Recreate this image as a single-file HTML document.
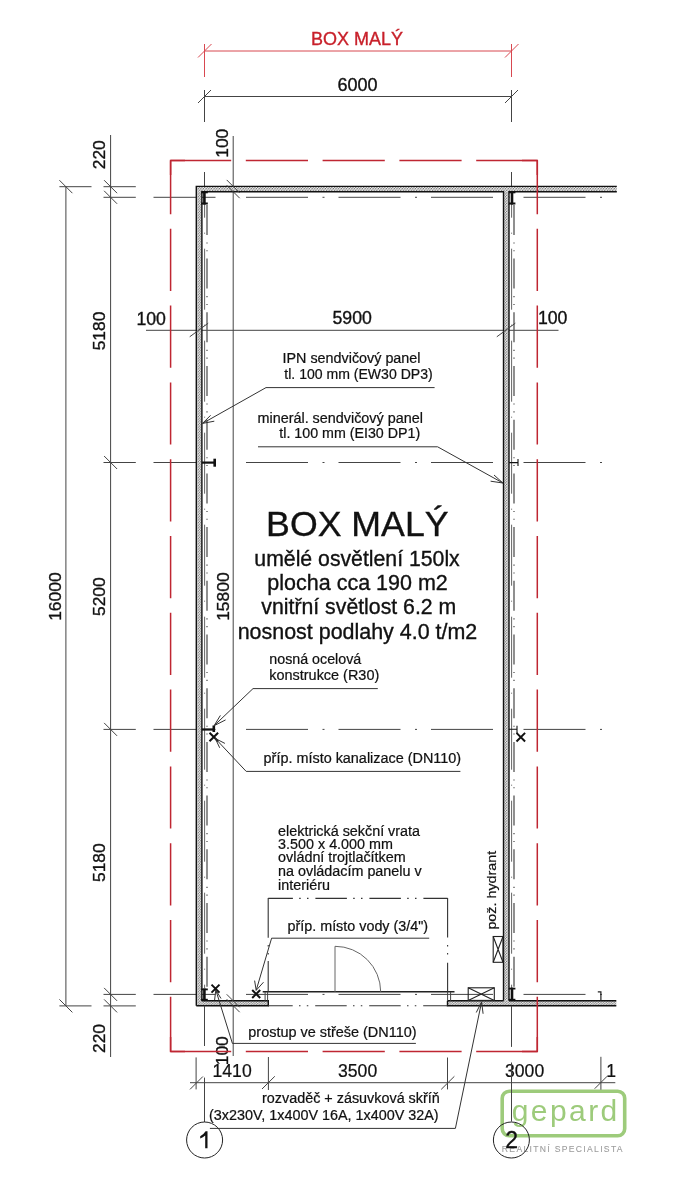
<!DOCTYPE html>
<html><head><meta charset="utf-8">
<style>
html,body{margin:0;padding:0;background:#fff;}
svg{display:block;will-change:transform;}
text{font-family:"Liberation Sans",sans-serif;fill:#111;stroke:#111;stroke-width:0.35px;}
.d{stroke:#444;stroke-width:1;fill:none;}
.k{stroke:#111;stroke-width:1;fill:none;}
.r{stroke:#d02a30;stroke-width:1.6;fill:none;}
</style></head>
<body>
<svg width="680" height="1200" viewBox="0 0 680 1200">
<defs>
<pattern id="hatch" width="2.65" height="2.65" patternUnits="userSpaceOnUse">
<rect width="2.65" height="2.65" fill="#606060"/>
<circle cx="0.7" cy="0.7" r="0.85" fill="#fff"/>
<circle cx="2.0" cy="2.0" r="0.85" fill="#fff"/>
</pattern>
</defs>
<line class="r" x1="204.5" y1="51" x2="511.5" y2="51" style="stroke:#d84850;stroke-width:1"/>
<line class="r" x1="204.5" y1="44" x2="204.5" y2="77" style="stroke:#d84850;stroke-width:1"/>
<line class="r" x1="511.5" y1="44" x2="511.5" y2="77" style="stroke:#d84850;stroke-width:1"/>
<line class="r" x1="198" y1="57.5" x2="211.5" y2="44" style="stroke:#d84850;stroke-width:1"/>
<line class="r" x1="505" y1="57.5" x2="518.5" y2="44" style="stroke:#d84850;stroke-width:1"/>
<text x="311" y="45.4" style="font-size:18px;fill:#c8202a;stroke:#c8202a">BOX MALÝ</text>
<line class="d" x1="204.5" y1="96.5" x2="511.5" y2="96.5"/>
<line class="d" x1="204.5" y1="90" x2="204.5" y2="122"/>
<line class="d" x1="511.5" y1="90" x2="511.5" y2="122"/>
<line class="d" x1="198.0" y1="103.0" x2="211.0" y2="90.0"/>
<line class="d" x1="505.0" y1="103.0" x2="518.0" y2="90.0"/>
<text x="337.4" y="91.3" style="font-size:18px">6000</text>
<line class="d" x1="204.5" y1="172" x2="204.5" y2="186"/>
<line class="d" x1="511.5" y1="172" x2="511.5" y2="186"/>
<line class="d" x1="65.9" y1="186.7" x2="65.9" y2="1005.9"/>
<line class="d" x1="59.4" y1="186.7" x2="91.5" y2="186.7"/>
<line class="d" x1="59.4" y1="1005.9" x2="91.5" y2="1005.9"/>
<line class="d" x1="59.400000000000006" y1="180.2" x2="72.4" y2="193.2"/>
<line class="d" x1="59.400000000000006" y1="999.4" x2="72.4" y2="1012.4"/>
<text transform="translate(61.4,620.8) rotate(-90)" style="font-size:17.4px">16000</text>
<line class="d" x1="110.6" y1="135" x2="110.6" y2="1057"/>
<line class="d" x1="103.5" y1="186.7" x2="135.8" y2="186.7"/>
<line class="d" x1="104.1" y1="180.2" x2="117.1" y2="193.2"/>
<line class="d" x1="103.5" y1="197.3" x2="135.8" y2="197.3"/>
<line class="d" x1="104.1" y1="190.8" x2="117.1" y2="203.8"/>
<line class="d" x1="103.5" y1="462.5" x2="135.8" y2="462.5"/>
<line class="d" x1="104.1" y1="456.0" x2="117.1" y2="469.0"/>
<line class="d" x1="103.5" y1="729.4" x2="135.8" y2="729.4"/>
<line class="d" x1="104.1" y1="722.9" x2="117.1" y2="735.9"/>
<line class="d" x1="103.5" y1="994.4" x2="135.8" y2="994.4"/>
<line class="d" x1="104.1" y1="987.9" x2="117.1" y2="1000.9"/>
<line class="d" x1="103.5" y1="1005.9" x2="135.8" y2="1005.9"/>
<line class="d" x1="104.1" y1="999.4" x2="117.1" y2="1012.4"/>
<text transform="translate(105.0,169.25) rotate(-90)" style="font-size:17.4px">220</text>
<text transform="translate(105.0,350.35) rotate(-90)" style="font-size:17.4px">5180</text>
<text transform="translate(105.0,616.0) rotate(-90)" style="font-size:17.4px">5200</text>
<text transform="translate(105.0,882.0) rotate(-90)" style="font-size:17.4px">5180</text>
<text transform="translate(105.0,1053.0) rotate(-90)" style="font-size:17.4px">220</text>
<line class="d" x1="233.2" y1="136" x2="233.2" y2="1056"/>
<text transform="translate(227.6,157.75) rotate(-90)" style="font-size:17.4px">100</text>
<text transform="translate(229.1,620.8) rotate(-90)" style="font-size:17.4px">15800</text>
<text transform="translate(227.6,1065.25) rotate(-90)" style="font-size:17.4px">100</text>
<line class="d" x1="146" y1="330.3" x2="558.5" y2="330.3"/>
<text x="136.4" y="324.5" style="font-size:17.7px">100</text>
<text x="332.5" y="324.4" style="font-size:17.7px">5900</text>
<text x="537.9" y="324.4" style="font-size:17.7px">100</text>
<line x1="153.5" y1="197.3" x2="215.5" y2="197.3" stroke="#444" stroke-width="1"/>
<line x1="246" y1="197.3" x2="603" y2="197.3" stroke="#444" stroke-width="1" stroke-dasharray="62 14.5 2 14"/>
<line x1="153.5" y1="462.5" x2="215.5" y2="462.5" stroke="#444" stroke-width="1"/>
<line x1="246" y1="462.5" x2="603" y2="462.5" stroke="#444" stroke-width="1" stroke-dasharray="62 14.5 2 14"/>
<line x1="153.5" y1="729.4" x2="215.5" y2="729.4" stroke="#444" stroke-width="1"/>
<line x1="246" y1="729.4" x2="603" y2="729.4" stroke="#444" stroke-width="1" stroke-dasharray="62 14.5 2 14"/>
<line x1="153.5" y1="994.4" x2="215.5" y2="994.4" stroke="#444" stroke-width="1"/>
<line x1="246" y1="994.4" x2="603" y2="994.4" stroke="#444" stroke-width="1" stroke-dasharray="62 14.5 2 14"/>
<rect x="502.2" y="1091.2" width="122.5" height="44.6" rx="7" ry="7" fill="none" stroke="#9dcb7b" stroke-width="3.6"/>
<text x="511.65" y="1121.1" style="font-size:30px;fill:#9dcb7b;stroke:#9dcb7b;stroke-width:0px;letter-spacing:2.45px">gepard</text>
<text x="501.85" y="1151.5" style="font-size:8.6px;fill:#9c9c9c;stroke:#9c9c9c;stroke-width:0.1px;letter-spacing:1.31px">REALITNÍ SPECIALISTA</text>
<g fill="url(#hatch)" stroke="none">
<rect x="196.3" y="186.4" width="420.5" height="5.3"/>
<rect x="196.3" y="191.7" width="5.6" height="814"/>
<rect x="503.5" y="191.7" width="5.5" height="809.1"/>
<rect x="201.9" y="1000.8" width="66.4" height="4.9"/>
<rect x="447.5" y="1000.8" width="168.8" height="4.9"/>
</g>
<g fill="none" stroke="#111" stroke-width="1.4">
<path d="M196.3,1005.7 V186.4 H616.8"/>
<path d="M201.9,1000.8 V191.7 H503.5 V1000.8"/>
<path d="M509,1000.8 V191.7 H616.8"/>
<path d="M196.3,1005.7 H268.3 V1000.8 H201.9"/>
<path d="M447.5,1000.8 V1005.7 H616.3"/>
<path d="M447.5,1000.8 H503.5"/>
<path d="M509,1000.8 H616.3"/>
</g>
<g fill="none" stroke="#555" stroke-width="0.9" stroke-dasharray="61 15 1 15" stroke-dashoffset="47.3">
<line x1="204.6" y1="204" x2="204.6" y2="988"/>
<line x1="511.6" y1="204" x2="511.6" y2="988"/>
</g>
<g fill="none" stroke="#555" stroke-width="1.3" stroke-dasharray="30 7.5 1.1 6.7 1.1 7.3">
<line x1="207" y1="204.9" x2="207" y2="988"/>
<line x1="514" y1="204.9" x2="514" y2="988"/>
</g>
<g fill="#111" stroke="none">
<rect x="201.20000000000002" y="191.5" width="6.6" height="1.8"/>
<rect x="203.1" y="191.5" width="2.6" height="13.0"/>
<rect x="201.20000000000002" y="202.5" width="6.6" height="2"/>
<rect x="508.8" y="191.5" width="6.6" height="1.8"/>
<rect x="510.7" y="191.5" width="2.6" height="13.0"/>
<rect x="508.8" y="202.5" width="6.6" height="2"/>
<rect x="201.20000000000002" y="988.5" width="6.6" height="1.8"/>
<rect x="203.1" y="988.5" width="2.6" height="12.299999999999955"/>
<rect x="201.20000000000002" y="998.8" width="6.6" height="2"/>
<rect x="508.8" y="987.7" width="6.6" height="1.8"/>
<rect x="510.7" y="987.7" width="2.6" height="13.099999999999909"/>
<rect x="508.8" y="998.8" width="6.6" height="2"/>
<rect x="201.9" y="461.5" width="12.8" height="2.2"/><rect x="213.4" y="458.7" width="2.6" height="8"/>
<rect x="201.9" y="728.4" width="12" height="2.2"/><rect x="212.5" y="725.5" width="2.6" height="6.5"/>
</g>
<g fill="none" stroke="#111" stroke-width="1.1">
<path d="M509,462.6 H518 M518,459 V466"/>
<path d="M509,729.2 H517 M517,725.7 V733"/>
</g>
<g fill="none" stroke="#111" stroke-width="2">
<path d="M209.5,732.7 L218.10000000000002,741.3 M218.10000000000002,732.7 L209.5,741.3"/>
<path d="M516.5,732.9000000000001 L525.0999999999999,741.5 M525.0999999999999,732.9000000000001 L516.5,741.5"/>
<path d="M211.5,984.6 L219.5,992.6 M219.5,984.6 L211.5,992.6"/>
<path d="M252.2,990 L260.2,998 M260.2,990 L252.2,998"/>
</g>
<g fill="none" stroke="#333" stroke-width="1">
<path d="M434.6,387.6 H266 L202.5,423.4 M210.6,415.3 L202.5,423.4 L214.3,421.2"/>
<path d="M258,446.8 H437.6 L502.9,483 M494,475 L502.9,483 L490.6,481.2"/>
<path d="M377.8,688.6 H253 L214.1,725.7 M220.4,715.4 L214.1,725.7 L225.6,719.9"/>
<path d="M460.4,771.4 H246.2 L215.3,738.5 M224.9,743.4 L215.3,738.5 L219.7,747.8"/>
<path d="M429.2,938.2 H271.6 L256.2,990.3 M254.6,980.6 L256.2,990.3 L263.5,982.2"/>
<path d="M415.9,1043.4 H232.4 L215.8,990 M214.6,1000 L215.8,990 L221,998.5"/>
<path d="M209.9,1128.4 H455.4 L481.6,1001.9 M476.25,1012.5 L481.6,1001.9 L483.1,1013.75"/>
</g>
<text x="282.55" y="362.5" style="font-size:14.35px;stroke-width:0.22px;">IPN sendvičový panel</text>
<text x="284.35" y="379.2" style="font-size:14.06px;stroke-width:0.22px;">tl. 100 mm (EW30 DP3)</text>
<text x="257.5" y="422.5" style="font-size:14.38px;stroke-width:0.22px;">minerál. sendvičový panel</text>
<text x="279.35" y="438.4" style="font-size:14.24px;stroke-width:0.22px;">tl. 100 mm (EI30 DP1)</text>
<text x="266.1" y="535.5" style="font-size:35.7px;stroke-width:0.35px;">BOX MALÝ</text>
<text x="254.35" y="566.4" style="font-size:21.24px;stroke-width:0.35px;">umělé osvětlení 150lx</text>
<text x="267.35" y="590.1" style="font-size:21.5px;stroke-width:0.35px;">plocha cca 190 m2</text>
<text x="261.3" y="614.4" style="font-size:21.28px;stroke-width:0.35px;">vnitřní světlost 6.2 m</text>
<text x="237.7" y="639" style="font-size:21.45px;stroke-width:0.35px;">nosnost podlahy 4.0 t/m2</text>
<text x="269.3" y="663.5" style="font-size:14.26px;stroke-width:0.22px;">nosná ocelová</text>
<text x="269.3" y="680" style="font-size:14.44px;stroke-width:0.22px;">konstrukce (R30)</text>
<text x="263.6" y="763.3" style="font-size:14.41px;stroke-width:0.22px;">příp. místo kanalizace (DN110)</text>
<text x="278.1" y="836.2" style="font-size:14.35px;stroke-width:0.22px;">elektrická sekční vrata</text>
<text x="278.1" y="849.1" style="font-size:14.35px;stroke-width:0.22px;">3.500 x 4.000 mm</text>
<text x="278.1" y="862" style="font-size:14.35px;stroke-width:0.22px;">ovládní trojtlačítkem</text>
<text x="278.1" y="875.7" style="font-size:14.35px;stroke-width:0.22px;">na ovládacím panelu v</text>
<text x="278.1" y="889.6" style="font-size:14.35px;stroke-width:0.22px;">interiéru</text>
<text x="287.5" y="930.6" style="font-size:14.35px;stroke-width:0.22px;">příp. místo vody (3/4&quot;)</text>
<text x="248.3" y="1036.5" style="font-size:14.45px;stroke-width:0.22px;">prostup ve střeše (DN110)</text>
<text x="262" y="1103" style="font-size:14.38px;stroke-width:0.22px;">rozvaděč + zásuvková skříň</text>
<text x="209" y="1120" style="font-size:14.38px;stroke-width:0.22px;">(3x230V, 1x400V 16A, 1x400V 32A)</text>
<text x="212.55" y="1077.2" style="font-size:17.6px;stroke-width:0.22px;">1410</text>
<text x="338.05" y="1077.4" style="font-size:17.6px;stroke-width:0.22px;">3500</text>
<text x="505.05" y="1077" style="font-size:17.6px;stroke-width:0.22px;">3000</text>
<text x="606.2" y="1077" style="font-size:17.6px;stroke-width:0.22px;">1</text>
<text transform="translate(495.7,929.6) rotate(-90) scale(1.12,1)" style="font-size:12.8px;stroke-width:0.2px">pož. hydrant</text>
<g fill="none" stroke="#222" stroke-width="1.5"><line x1="262.7" y1="991.8" x2="454.5" y2="991.8"/></g>
<g fill="none" stroke="#444" stroke-width="1">
<path d="M335,991.8 V946.3 A45.7,45.7 0 0 1 380.7,991.8" stroke="#666"/>
<path d="M265.1,992 V1000.8 M267.6,992 V1000.8 M447.6,992 V1000.8 M450.6,992 V1000.8"/>
</g>
<g fill="none" stroke="#333" stroke-width="1.1">
<path d="M268.2,898.4 H447.6" stroke-dasharray="31.5 6.3 1.5 6.3 1.5 6.9" stroke-dashoffset="6.8"/>
<path d="M268,1005.7 H447.5" stroke-dasharray="31.5 6.3 1.5 6.3 1.5 6.9" stroke-dashoffset="6.8"/>
<path d="M268.2,898 V937.7 M268.2,945 V946.5 M268.2,953 V954.5 M268.2,961 V992"/>
<path d="M447.6,898 V937.4 M447.6,945 V946.5 M447.6,953 V954.5 M447.6,962.8 V992"/>
</g>
<g fill="none" stroke="#222" stroke-width="1.1">
<rect x="493.2" y="936.5" width="9.8" height="25.8"/><path d="M493.2,936.5 L503,962.3 M503,936.5 L493.2,962.3"/>
<rect x="468.2" y="987.8" width="26.1" height="12.6"/><path d="M468.2,987.8 L494.3,1000.4 M494.3,987.8 L468.2,1000.4"/>
<path d="M597.8,991.9 H600.9 V1000.5" stroke-width="1.2"/>
</g>
<g fill="none" stroke="#444" stroke-width="1">
<path d="M190,1082.7 H615.3"/>
<path d="M196.1,1057.4 V1089.4 M268.4,1057 V1090 M447.5,1057.5 V1089.4 M600.9,1056.8 V1089.7"/>
<path d="M190,1089.4 L202.9,1076.5 M262,1089 L274.8,1076.3 M441.2,1089.4 L454.4,1076.3 M594.7,1088.7 L607.2,1076.2"/>
<path d="M204.5,1005.7 V1046 M204.5,1077.6 V1122 M511.5,1005.7 V1046.9 M511.5,1062.5 V1121.5"/>
</g>
<g fill="none" stroke="#222" stroke-width="1"><circle cx="204.6" cy="1140" r="18"/><circle cx="511.4" cy="1140" r="18"/></g>
<path d="M205.2,1148.3 V1135.6 Q203,1137.6 200.2,1138.6 V1136.2 Q203.6,1134.6 205.6,1131.3 H207.5 V1148.3 Z" fill="#111"/>
<text x="505.15" y="1147.6" style="font-size:23px;stroke-width:0.35px;">2</text>
<path class="d" d="M189.7,336.8 L208.2,323.2 M496.8,336.8 L515.3,323.2"/>
<line class="d" x1="226.7" y1="179.9" x2="239.7" y2="192.9"/>
<line class="d" x1="226.7" y1="185.2" x2="239.7" y2="198.2"/>
<line class="d" x1="226.7" y1="994.3" x2="239.7" y2="1007.3"/>
<line class="d" x1="226.7" y1="999.2" x2="239.7" y2="1012.2"/>
<path d="M170.6,160.4 V1051.6" fill="none" stroke="#bf2632" stroke-width="1.5" stroke-dasharray="62.2 14.6" stroke-dashoffset="8.4"/>
<path d="M537.3,160.4 V1051.6" fill="none" stroke="#bf2632" stroke-width="1.5" stroke-dasharray="62.2 14.6" stroke-dashoffset="8.4"/>
<path d="M170.6,160.4 H537.3" fill="none" stroke="#bf2632" stroke-width="1.5" stroke-dasharray="62.2 14.6" stroke-dashoffset="1.6"/>
<path d="M170.6,1051.6 H537.3" fill="none" stroke="#bf2632" stroke-width="1.5" stroke-dasharray="62.2 14.6" stroke-dashoffset="1.6"/>
<path d="M170.6,175 V160.4 H185 M522,160.4 H537.3 V175 M170.6,1037 V1051.6 H185 M522,1051.6 H537.3 V1037" fill="none" stroke="#bf2632" stroke-width="1.5" stroke-linejoin="miter"/>
</svg>
</body></html>
